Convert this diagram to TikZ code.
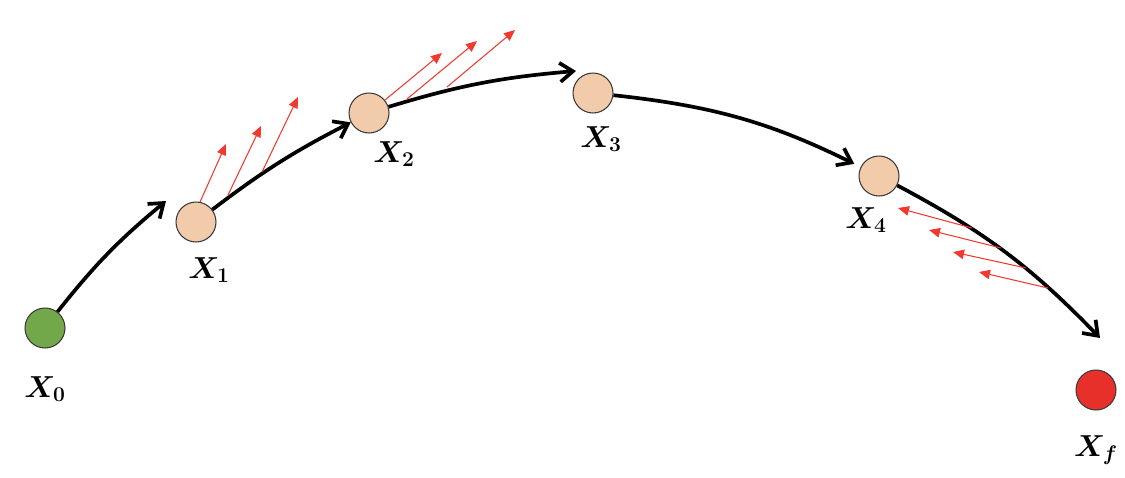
\documentclass[tikz,border=0pt]{standalone}
\usepackage{bm}
\usetikzlibrary{arrows.meta}
\definecolor{peach}{HTML}{F2CBAB}
\definecolor{startgreen}{HTML}{72A84A}
\definecolor{endred}{HTML}{E8302A}
\definecolor{arrowred}{HTML}{F03A2E}
\definecolor{rim}{HTML}{3A3A3A}
\tikzset{
  state/.style={circle, draw=rim, line width=0.6pt, minimum size=0.8cm, inner sep=0pt},
  lbl/.style={font=\fontsize{18}{20}\selectfont},
  path/.style={line width=2.1pt, -{Straight Barb[length=2.6mm,width=3.8mm,line width=2.1pt]}},
  grad/.style={arrowred, line width=0.6pt, -{Triangle[length=2.2mm,width=1.9mm]}}
}
\begin{document}
\begin{tikzpicture}[x=0.02cm,y=-0.02cm]
\useasboundingbox (0,0) rectangle (1125,477);
% states
\node[state, fill=startgreen] (X0) at (45,328) {};
\node[state, fill=peach] (X1) at (196,222) {};
\node[state, fill=peach] (X2) at (369,113) {};
\node[state, fill=peach] (X3) at (593,93) {};
\node[state, fill=peach] (X4) at (879,176) {};
\node[state, fill=endred] (Xf) at (1096,390) {};
% labels
\node[lbl] (L0) at (45,389) {$\bm{X_0}$};
\node[lbl] (L1) at (209,270) {$\bm{X_1}$};
\node[lbl] (L2) at (394,154) {$\bm{X_2}$};
\node[lbl] (L3) at (601,139) {$\bm{X_3}$};
\node[lbl] (L4) at (866,220) {$\bm{X_4}$};
\node[lbl] (Lf) at (1096,450) {$\bm{X_f}$};
% free ends
\coordinate (e0) at (166,201);
\coordinate (e2) at (576,71);
\coordinate (ef) at (1100,338);
% main path
\draw[path] (X0) to[bend left=6] (e0);
\draw[path] (X1) to[bend left=5] (X2);
\draw[path] (X2) to[bend left=6] (e2);
\draw[path, shorten >=4pt] (X3) to[bend left=10] (X4);
\draw[path] (X4) to[bend left=9] (ef);
% gradient arrows near X1
\coordinate (a1s) at (200,202); \coordinate (a1t) at (226,144);
\coordinate (a2s) at (228,195); \coordinate (a2t) at (261,126);
\coordinate (a3s) at (262,172); \coordinate (a3t) at (298,97);
\draw[grad] (a1s) -- (a1t);
\draw[grad] (a2s) -- (a2t);
\draw[grad] (a3s) -- (a3t);
% gradient arrows near X2
\coordinate (b1s) at (385,100); \coordinate (b1t) at (442,53);
\coordinate (b2s) at (407,99); \coordinate (b2t) at (477,41);
\coordinate (b3s) at (447,87); \coordinate (b3t) at (515,30);
\draw[grad] (b1s) -- (b1t);
\draw[grad] (b2s) -- (b2t);
\draw[grad] (b3s) -- (b3t);
% gradient arrows near X4
\coordinate (c1s) at (972,228); \coordinate (c1t) at (898,208);
\coordinate (c2s) at (1001,248); \coordinate (c2t) at (929,230);
\coordinate (c3s) at (1026,268); \coordinate (c3t) at (953,252);
\coordinate (c4s) at (1048,288); \coordinate (c4t) at (979,272);
\draw[grad] (c1s) -- (c1t);
\draw[grad] (c2s) -- (c2t);
\draw[grad] (c3s) -- (c3t);
\draw[grad] (c4s) -- (c4t);
\end{tikzpicture}
\end{document}
